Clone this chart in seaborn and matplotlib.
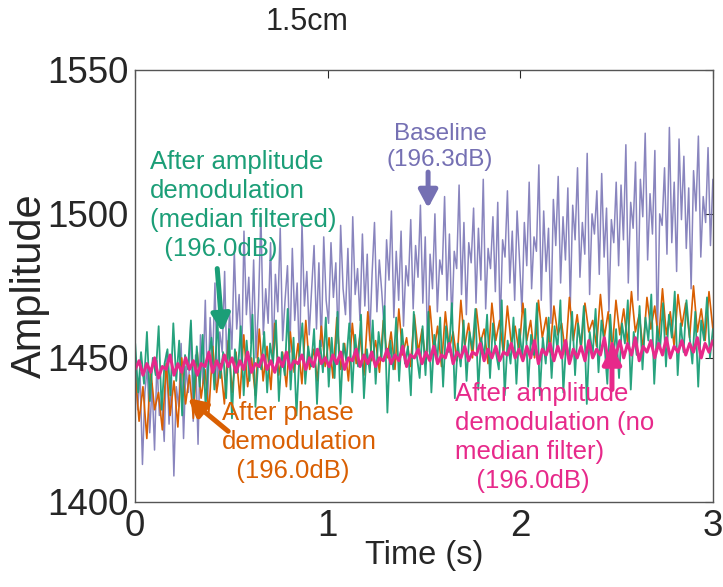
import numpy as np
import pandas as pd
import matplotlib
matplotlib.use("Agg")
import matplotlib.pyplot as plt
import seaborn as sns

# ---------------- data ----------------
baseline = [
    1450, 1432, 1445, 1413, 1438, 1447, 1424, 1441, 1418, 1449, 1430, 1436, 1421, 1452, 1427,
    1444, 1409, 1440, 1433, 1455, 1422, 1447, 1438, 1462, 1428, 1451, 1420, 1458, 1441, 1470,
    1435, 1464, 1448, 1476, 1440, 1459, 1452, 1480, 1444, 1466,
    1453, 1487, 1460, 1472, 1446, 1494, 1465, 1478, 1455, 1484, 1450, 1468, 1500, 1458, 1474,
    1462, 1490, 1448, 1479, 1466, 1495, 1456, 1470, 1482, 1452, 1488, 1463, 1476, 1447, 1497,
    1468, 1480, 1458, 1474, 1489, 1460, 1483, 1454, 1492, 1470,
    1462, 1490, 1471, 1483, 1455, 1496, 1474, 1465, 1488, 1459, 1499, 1472, 1481, 1463, 1493,
    1468, 1486, 1456, 1479, 1497, 1466, 1484, 1473, 1460, 1491, 1477, 1501, 1464, 1487, 1470,
    1494, 1461, 1482, 1475, 1498, 1467, 1489, 1478, 1503, 1469,
    1492, 1452, 1486, 1474, 1500, 1466, 1484, 1479, 1506, 1470, 1493, 1462, 1487, 1481, 1510,
    1472, 1497, 1465, 1490, 1483, 1502, 1469, 1495, 1477, 1512, 1467, 1488, 1481, 1499, 1473,
    1504, 1460, 1491, 1485, 1508, 1476, 1494, 1470, 1501, 1484,
    1466, 1497, 1482, 1511, 1474, 1492, 1487, 1517, 1470, 1501, 1480, 1495, 1462, 1505, 1489,
    1513, 1476, 1499, 1484, 1509, 1468, 1503, 1491, 1516, 1478, 1497, 1486, 1521, 1472, 1500,
    1493, 1508, 1479, 1514, 1485, 1502, 1466, 1498, 1490, 1511,
    1482, 1510, 1491, 1524, 1476, 1504, 1495, 1518, 1470, 1512, 1499, 1528, 1484, 1507, 1493,
    1522, 1455, 1500, 1496, 1516, 1486, 1530, 1490, 1511, 1480, 1526, 1498, 1520, 1488, 1509,
    1474, 1515, 1501, 1527, 1485, 1506, 1497, 1523, 1489, 1512,
]
phase_demod = [
    1445, 1428, 1440, 1422, 1446, 1432, 1438, 1425, 1448, 1430, 1442, 1426, 1450, 1434, 1444,
    1429, 1452, 1436, 1446, 1431, 1454, 1438, 1448, 1434, 1456,
    1438, 1452, 1436, 1458, 1440, 1450, 1437, 1460, 1442, 1454, 1439, 1462, 1444, 1452, 1440,
    1459, 1445, 1455, 1441, 1463, 1446, 1453, 1442, 1461, 1447,
    1457, 1443, 1464, 1446, 1455, 1442, 1462, 1448, 1458, 1444, 1466, 1449, 1456, 1445, 1463,
    1450, 1459, 1446, 1467, 1451, 1457, 1447, 1465, 1452, 1460,
    1448, 1468, 1452, 1461, 1447, 1466, 1453, 1459, 1449, 1470, 1454, 1462, 1450, 1467, 1455,
    1460, 1448, 1469, 1456, 1463, 1451, 1468, 1455, 1461, 1452,
    1469, 1456, 1463, 1450, 1470, 1457, 1464, 1452, 1468, 1458, 1462, 1451, 1471, 1456, 1465,
    1453, 1469, 1459, 1463, 1454, 1472, 1457, 1466, 1452, 1470,
    1458, 1467, 1455, 1473, 1459, 1465, 1453, 1471, 1460, 1468, 1456, 1474, 1458, 1466, 1454,
    1472, 1461, 1469, 1457, 1475, 1459, 1467, 1456, 1473, 1460,
]
amp_median = [
    1455, 1438, 1452, 1441, 1459, 1435, 1450, 1444, 1461, 1432, 1448, 1453, 1437, 1462, 1442,
    1456, 1430, 1451, 1446, 1463, 1436, 1454, 1440, 1458, 1433, 1449, 1457, 1439, 1464, 1443,
    1452, 1436, 1460,
    1429, 1453, 1445, 1461, 1437, 1456, 1442, 1465, 1433, 1450, 1446, 1459, 1438, 1455, 1448,
    1463, 1435, 1452, 1444, 1467, 1439, 1457, 1430, 1451, 1462, 1441, 1454, 1447, 1460, 1434,
    1456, 1445, 1464,
    1440, 1457, 1443, 1466, 1434, 1455, 1449, 1462, 1438, 1458, 1447, 1465, 1436, 1453, 1445,
    1463, 1441, 1459, 1450, 1468, 1431, 1456, 1446, 1464, 1442, 1460, 1448, 1454, 1437, 1466,
    1451, 1443, 1461,
    1444, 1466, 1438, 1458, 1449, 1464, 1440, 1461, 1452, 1469, 1436, 1455, 1447, 1463, 1442,
    1459, 1453, 1467, 1439, 1457, 1450, 1465, 1443, 1462, 1452, 1446, 1470, 1437, 1456, 1448,
    1464, 1441, 1460,
    1450, 1467, 1440, 1458, 1451, 1469, 1437, 1457, 1448, 1464, 1443, 1461, 1453, 1470, 1438,
    1456, 1449, 1466, 1444, 1462, 1454, 1468, 1434, 1459, 1451, 1467, 1445, 1463, 1455, 1441,
    1465, 1449, 1460,
    1443, 1462, 1455, 1470, 1439, 1459, 1451, 1468, 1446, 1464, 1456, 1472, 1441, 1461, 1453,
    1469, 1447, 1465, 1457, 1473, 1444, 1462, 1452, 1470, 1458, 1448, 1466, 1440, 1463, 1456,
    1471, 1450, 1460,
]
amp_nofilter = [
    1446, 1449, 1444, 1448, 1445, 1450, 1443, 1447, 1446, 1451, 1444, 1448, 1445, 1450, 1446,
    1449, 1444, 1448, 1447, 1452, 1445, 1449, 1446, 1451, 1447,
    1450, 1445, 1449, 1446, 1452, 1445, 1448, 1447, 1451, 1446, 1449, 1445, 1450, 1447, 1452,
    1446, 1449, 1448, 1451, 1446, 1450, 1447, 1453, 1448, 1450,
    1447, 1451, 1448, 1452, 1446, 1450, 1449, 1453, 1447, 1451, 1448, 1452, 1447, 1450, 1449,
    1453, 1448, 1451, 1449, 1454, 1447, 1451, 1450, 1453, 1448,
    1452, 1449, 1454, 1448, 1451, 1450, 1455, 1448, 1452, 1450, 1454, 1449, 1452, 1451, 1455,
    1449, 1453, 1450, 1454, 1449, 1452, 1451, 1455, 1450, 1453,
    1449, 1454, 1450, 1456, 1448, 1453, 1451, 1455, 1449, 1454, 1450, 1456, 1448, 1453, 1450,
    1454, 1449, 1456, 1450, 1453, 1451, 1457, 1449, 1455, 1451,
    1456, 1450, 1455, 1451, 1457, 1449, 1454, 1452, 1456, 1450, 1455, 1451, 1457, 1450, 1454,
    1452, 1456, 1451, 1455, 1452, 1457, 1450, 1455, 1452, 1456,
]
t_end = 3.0
x_ticks = [0, 1, 2, 3]
y_ticks = [1400, 1450, 1500, 1550]
title = "1.5cm"
xlabel = "Time (s)"
ylabel = "Amplitude"

# ---------------- style ----------------
sns.set_style("white")
plt.rcParams["font.family"] = ["Liberation Sans", "DejaVu Sans"]

pal = sns.color_palette("Dark2")
c_green, c_orange, c_purple, c_pink = pal[0], pal[1], pal[2], pal[3]

def frame(vals):
    n = len(vals)
    return pd.DataFrame({"t": np.linspace(0, t_end, n), "v": vals})

fig = plt.figure(figsize=(7.23, 5.87), dpi=100)
ax = fig.add_axes([0.187, 0.145, 0.799, 0.736])

sns.lineplot(data=frame(baseline), x="t", y="v", ax=ax, color=c_purple, lw=1.1, alpha=0.85)
sns.lineplot(data=frame(phase_demod), x="t", y="v", ax=ax, color=c_orange, lw=1.2)
sns.lineplot(data=frame(amp_median), x="t", y="v", ax=ax, color=c_green, lw=1.3, alpha=0.95)
sns.lineplot(data=frame(amp_nofilter), x="t", y="v", ax=ax, color=c_pink, lw=2.2)

ax.set_xlim(0, 3)
ax.set_ylim(1400, 1550)
ax.set_xticks(x_ticks)
ax.set_yticks(y_ticks)
ax.tick_params(direction="in", length=6, width=0.8, labelsize=26.5, top=True, right=True)
ax.tick_params(axis="y", pad=5)
ax.tick_params(axis="x", pad=5)
for s in ax.spines.values():
    s.set_color("#555555")
    s.set_linewidth(1.0)
ax.set_xlabel(xlabel, fontsize=23.5, labelpad=-3)
ax.set_ylabel(ylabel, fontsize=30, labelpad=-2)
fig.text(307 / 723, 1 - 22 / 587, title, fontsize=22, ha="center", va="center")

fs = 18.5
ls = 1.26
arrow = dict(arrowstyle="-|>,head_width=0.4,head_length=0.75", lw=3.6, shrinkA=0,
             shrinkB=0, mutation_scale=14)

ax.text(0.075, 1522, "After amplitude\ndemodulation\n(median filtered)\n  (196.0dB)",
        color=c_green, fontsize=fs, ha="left", va="top", linespacing=ls)
ax.annotate("", xy=(0.452, 1459), xytext=(0.426, 1481),
            arrowprops=dict(arrow, color=c_green))

ax.text(1.583, 1531.5, "Baseline\n(196.3dB)", color=c_purple, fontsize=17.5,
        ha="center", va="top", linespacing=1.2)
ax.annotate("", xy=(1.521, 1502), xytext=(1.521, 1514.5),
            arrowprops=dict(arrow, color=c_purple))

ax.text(0.452, 1435, "After phase\ndemodulation\n  (196.0dB)", color=c_orange,
        fontsize=fs, ha="left", va="top", linespacing=ls)
ax.annotate("", xy=(0.275, 1436), xytext=(0.483, 1424.5),
            arrowprops=dict(arrow, color=c_orange))

ax.text(1.661, 1441.5, "After amplitude\ndemodulation (no\nmedian filter)\n   (196.0dB)",
        color=c_pink, fontsize=fs, ha="left", va="top", linespacing=ls)
ax.annotate("", xy=(2.476, 1454), xytext=(2.476, 1439),
            arrowprops=dict(arrow, color=c_pink))

fig.savefig("out.png", dpi=100)
